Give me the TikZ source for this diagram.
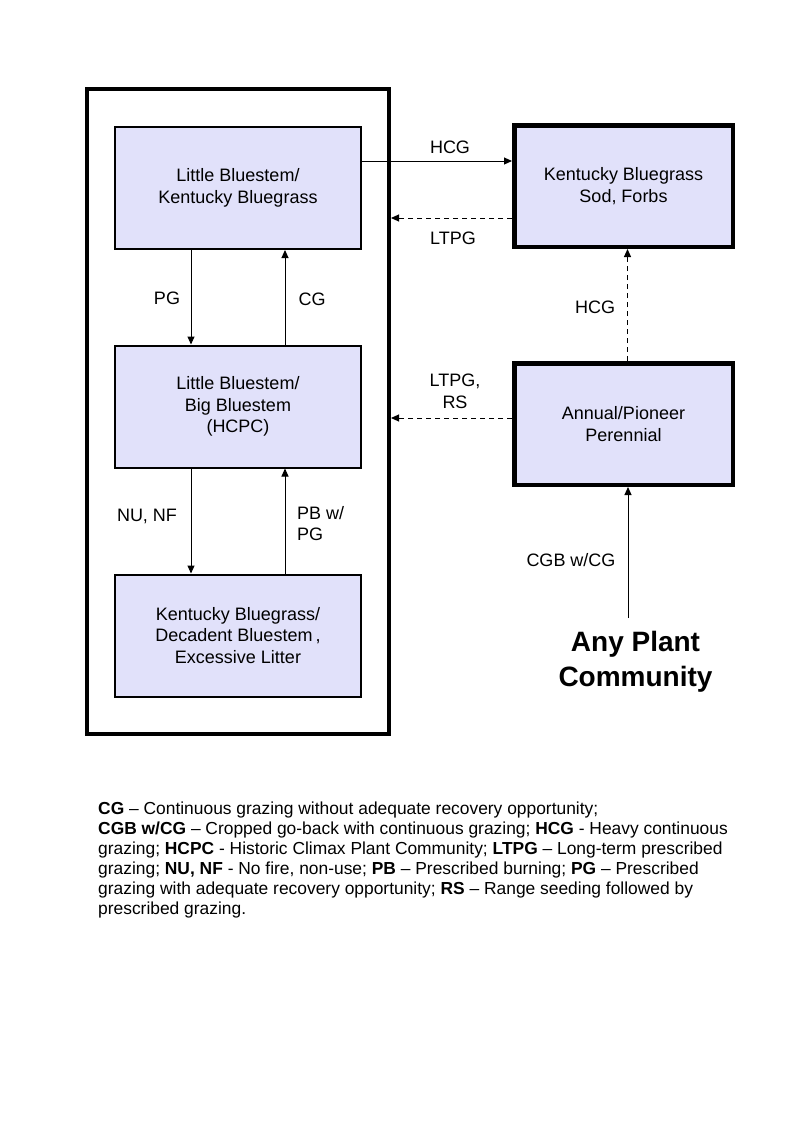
\documentclass[tikz,border=0pt]{standalone}
\usepackage{fontspec}
\setmainfont{Liberation Sans}
\usetikzlibrary{arrows.meta,positioning}
\definecolor{boxfill}{RGB}{225,225,250}

\begin{document}
\begin{tikzpicture}[x=1pt,y=-1pt,
    box/.style={draw, line width=2pt, fill=boxfill, minimum width=246pt, minimum height=122pt,
        inner sep=0pt, align=center, font=\fontsize{18}{21.7}\selectfont},
    heavybox/.style={box, line width=4.5pt, minimum width=218.5pt, minimum height=121.5pt},
    arr/.style={line width=1pt, -{Triangle[length=8pt,width=7pt]}},
    dasharr/.style={arr, dash pattern=on 5pt off 4pt},
    lbl/.style={inner sep=0pt, align=center, font=\fontsize{18}{21.7}\selectfont}]
    % page
    \path[fill=white] (0,0) rectangle (800,1143);
    \useasboundingbox (0,0) rectangle (800,1143);

    % outer frame round the left column
    \node[draw, line width=4pt, minimum width=302pt, minimum height=645pt, inner sep=0pt] (frame) at (238,411.5) {};

    % left column
    \node[box] (lbkb) at (238,188) {Little Bluestem/\\Kentucky Bluegrass};
    \node[box] (hcpc) at (238,406.5) {Little Bluestem/\\Big Bluestem\\(HCPC)};
    \node[box] (kbde) at (238,635.5) {Kentucky Bluegrass/\\Decadent Bluestem\,,\\Excessive Litter};

    % right column
    \node[heavybox] (sod) at (623.5,186) {Kentucky Bluegrass\\Sod, Forbs};
    \node[heavybox] (annual) at (623.5,424) {Annual/Pioneer\\Perennial};
    \node[inner sep=0pt, align=center, font=\bfseries\fontsize{28}{35}\selectfont] (any) at (635.5,662) {Any Plant\\Community};
    \coordinate (anytop) at (628,618);

    % transitions
    \draw[arr] ([yshift=27pt]lbkb.east) -- ([yshift=25pt]sod.west);
    \draw[dasharr] ([yshift=-32pt]sod.west) -- ([yshift=-32pt]sod.west -| frame.east);
    \draw[dasharr] ([xshift=4pt]annual.north) -- ([xshift=4pt]sod.south);
    \draw[dasharr] ([yshift=6pt]annual.west) -- ([yshift=6pt]annual.west -| frame.east);
    \draw[arr] (anytop) -- (anytop |- annual.south);
    \draw[arr] ([xshift=-47pt]lbkb.south) -- ([xshift=-47pt]hcpc.north);
    \draw[arr] ([xshift=47pt]hcpc.north) -- ([xshift=47pt]lbkb.south);
    \draw[arr] ([xshift=-47pt]hcpc.south) -- ([xshift=-47pt]kbde.north);
    \draw[arr] ([xshift=47pt]kbde.north) -- ([xshift=47pt]hcpc.south);

    % labels
    \node[lbl] (hcgtop) at (450,147) {HCG};
    \node[lbl] (ltpgtop) at (453,238) {LTPG};
    \node[lbl] (ltpgrs) at (455,391) {LTPG,\\RS};
    \node[lbl] (hcgup) at (595,307) {HCG};
    \node[lbl] (pg) at (167,298) {PG};
    \node[lbl] (cg) at (312,299) {CG};
    \node[lbl] (nunf) at (147,516) {NU, NF};
    \node[lbl, align=left, anchor=west] (pbpg) at (297,523.5) {PB w/\\PG};
    \node[lbl] (cgb) at (571,560) {CGB w/CG};

    % legend
    \node[inner sep=0pt, anchor=north west, align=left, font=\fontsize{17.4}{20}\selectfont] (legend) at (98,801.5)
        {\textbf{CG} -- Continuous grazing without adequate recovery opportunity;\\
         \textbf{CGB w/CG} -- Cropped go-back with continuous grazing; \textbf{HCG} - Heavy continuous\\
         grazing; \textbf{HCPC} - Historic Climax Plant Community; \textbf{LTPG} -- Long-term prescribed\\
         grazing; \textbf{NU, NF} - No fire, non-use; \textbf{PB} -- Prescribed burning; \textbf{PG} -- Prescribed\\
         grazing with adequate recovery opportunity; \textbf{RS} -- Range seeding followed by\\
         prescribed grazing.};
\end{tikzpicture}
\end{document}
